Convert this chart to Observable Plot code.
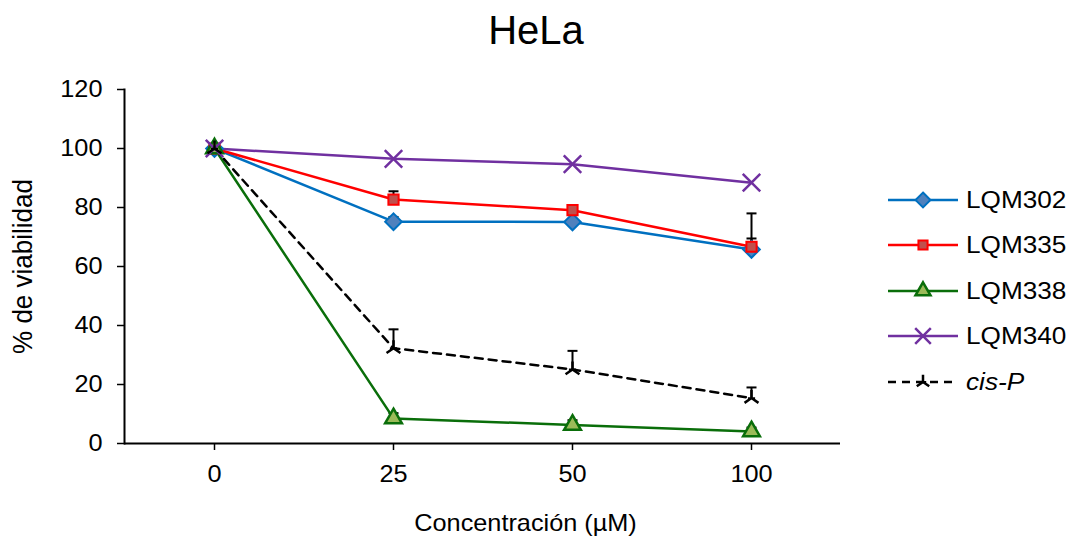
<!DOCTYPE html>
<html>
<head>
<meta charset="utf-8">
<script src="https://cdn.jsdelivr.net/npm/d3@7"></script>
<script src="https://cdn.jsdelivr.net/npm/@observablehq/plot@0.6"></script>
<style>
  html, body { margin: 0; padding: 0; background: #fff; }
  body { width: 1068px; height: 540px; position: relative; overflow: hidden; font-family: "Liberation Sans", Arial, sans-serif; }
  #title { position: absolute; left: 0; width: 1072px; top: 8px; text-align: center; font-size: 40px; line-height: 45px; color: #000; }
  #chart { position: absolute; left: 0; top: 0; }
  #legend { position: absolute; left: 888px; top: 177px; }
  .row { display: flex; align-items: center; height: 45.5px; font-size: 24px; color: #000; }
  .row svg { margin-right: 8px; }
  .row span { display: inline-block; transform: scaleX(1.09); transform-origin: left center; }
</style>
</head>
<body>
<div id="chart"></div>
<div id="title">HeLa</div>
<div id="legend"></div>
<script>
// ---- data ----
const concentrations = ["0", "25", "50", "100"];
const seriesNames = ["LQM302", "LQM335", "LQM338", "LQM340", "cis-P"];
const lqm302 = [100, 75.2, 75.1, 65.8];
const lqm302Err = [0, 1.6, 1.0, 3.7];
const lqm335 = [100, 82.7, 79.1, 66.7];
const lqm335Err = [0, 2.8, 1.6, 11.3];
const lqm338 = [100, 8.5, 6.3, 4.1];
const lqm338Err = [0, 1.8, 1.6, 1.3];
const lqm340 = [100, 96.5, 94.7, 88.4];
const lqm340Err = [0, 0, 0, 0];
const cisP = [100, 32.3, 25.1, 15.4];
const cisPErr = [0, 6.4, 6.3, 3.6];
const yTicks = [0, 20, 40, 60, 80, 100, 120];

// custom symbols
const capSymbol = {draw(context, size) { const w = Math.sqrt(size / Math.PI); context.moveTo(-w, 0); context.lineTo(w, 0); }};
const starSymbol = {draw(context, size) {
  const r = Math.sqrt(size / Math.PI);
  context.moveTo(0, 0); context.lineTo(0, -r);
  context.moveTo(0, 0); context.lineTo(-r * 0.87, r * 0.6);
  context.moveTo(0, 0); context.lineTo(r * 0.87, r * 0.6);
  context.moveTo(-r * 0.45, r * 0.05); context.lineTo(r * 0.45, r * 0.05);
}};

// ---- styles ----
const styles = {
  "LQM302": {line: "#0070C0", symbol: "diamond2", r: 7.5, fill: "#4F81BD", stroke: "#0070C0", sw: 2, dash: null},
  "LQM335": {line: "#FF0000", symbol: "square2", r: 6.5, fill: "#C0504D", stroke: "#FF0000", sw: 2, dash: null},
  "LQM338": {line: "#0A6E0A", symbol: "triangle2", r: 8, fill: "#9BBB59", stroke: "#0A6E0A", sw: 2.5, dash: null},
  "LQM340": {line: "#7030A0", symbol: "times", r: 8, fill: "none", stroke: "#7030A0", sw: 2.5, dash: null},
  "cis-P": {line: "#000000", symbol: starSymbol, r: 8, fill: "none", stroke: "#000", sw: 2.5, dash: "8,6"}
};

const values = {"LQM302": lqm302, "LQM335": lqm335, "LQM338": lqm338, "LQM340": lqm340, "cis-P": cisP};
const errs = {"LQM302": lqm302Err, "LQM335": lqm335Err, "LQM338": lqm338Err, "LQM340": lqm340Err, "cis-P": cisPErr};

const rows = [];
for (const s of seriesNames) {
  concentrations.forEach((c, i) => rows.push({series: s, conc: c, v: values[s][i], e: errs[s][i]}));
}

const marks = [];
const errRows = rows.filter(d => d.e > 0);
marks.push(Plot.ruleX(errRows, {x: "conc", y1: "v", y2: d => d.v + d.e, stroke: "#000", strokeWidth: 2}));
marks.push(Plot.dot(errRows, {x: "conc", y: d => d.v + d.e, symbol: capSymbol, r: 5, stroke: "#000", strokeWidth: 2}));
for (const s of seriesNames) {
  const st = styles[s];
  const data = rows.filter(d => d.series === s);
  marks.push(Plot.line(data, {x: "conc", y: "v", stroke: st.line, strokeWidth: 2.5, strokeDasharray: st.dash}));
}
for (const s of seriesNames) {
  const st = styles[s];
  const data = rows.filter(d => d.series === s);
  marks.push(Plot.dot(data, {x: "conc", y: "v", symbol: st.symbol, r: st.r, fill: st.fill, stroke: st.stroke, strokeWidth: st.sw}));
}

const plot = Plot.plot({
  width: 1068,
  height: 540,
  marginLeft: 124,
  marginRight: 228,
  marginTop: 89,
  marginBottom: 97,
  style: {fontFamily: "'Liberation Sans', Arial, sans-serif", fontSize: "23px", color: "#000", background: "#fff"},
  x: {type: "point", domain: concentrations, padding: 0.5},
  y: {domain: [0, 120]},
  marks: [
    Plot.axisY({ticks: yTicks, tickSize: 7, tickPadding: 15, label: null, stroke: "#000", strokeWidth: 1.5, fontSize: 23}),
    Plot.axisX({tickSize: 7, tickPadding: 15, label: null, stroke: "#000", strokeWidth: 1.5, fontSize: 23}),
    Plot.frame({anchor: "left", stroke: "#000", strokeWidth: 2}),
    Plot.ruleY([0], {stroke: "#000", strokeWidth: 2}),
    Plot.text(["% de viabilidad"], {frameAnchor: "left", textAnchor: "middle", rotate: -90, dx: -101, fontSize: 26}),
    Plot.text(["Concentración (µM)"], {frameAnchor: "bottom", dx: 43, dy: 87, fontSize: 23}),
    ...marks
  ]
});
document.getElementById("chart").appendChild(plot);

// widen text horizontally to match the reference's stretched glyphs
d3.select(plot).selectAll("text").each(function() {
  const t = this.getAttribute("transform") || "";
  if (t.includes("rotate")) this.setAttribute("transform", t + " scale(1,1.08)");
  else if (t) this.setAttribute("transform", t + " scale(1.1,1)");
});

// ---- legend ----
const legend = d3.select("#legend");
const symMap = {diamond2: d3.symbolDiamond2, square2: d3.symbolSquare2, triangle2: d3.symbolTriangle2, times: d3.symbolTimes};
for (const s of seriesNames) {
  const st = styles[s];
  const row = legend.append("div").attr("class", "row");
  const sv = row.append("svg").attr("width", 70).attr("height", 24);
  sv.append("line").attr("x1", 0).attr("x2", 70).attr("y1", 12).attr("y2", 12)
    .attr("stroke", st.line).attr("stroke-width", 2.5).attr("stroke-dasharray", st.dash);
  const sym = typeof st.symbol === "string" ? symMap[st.symbol] : st.symbol;
  sv.append("path").attr("transform", "translate(35,12)")
    .attr("d", d3.symbol(sym, Math.PI * st.r * st.r * 0.8)())
    .attr("fill", st.fill).attr("stroke", st.stroke).attr("stroke-width", st.sw);
  const label = row.append("span");
  if (s === "cis-P") label.style("font-style", "italic");
  label.text(s);
}
</script>
</body>
</html>
